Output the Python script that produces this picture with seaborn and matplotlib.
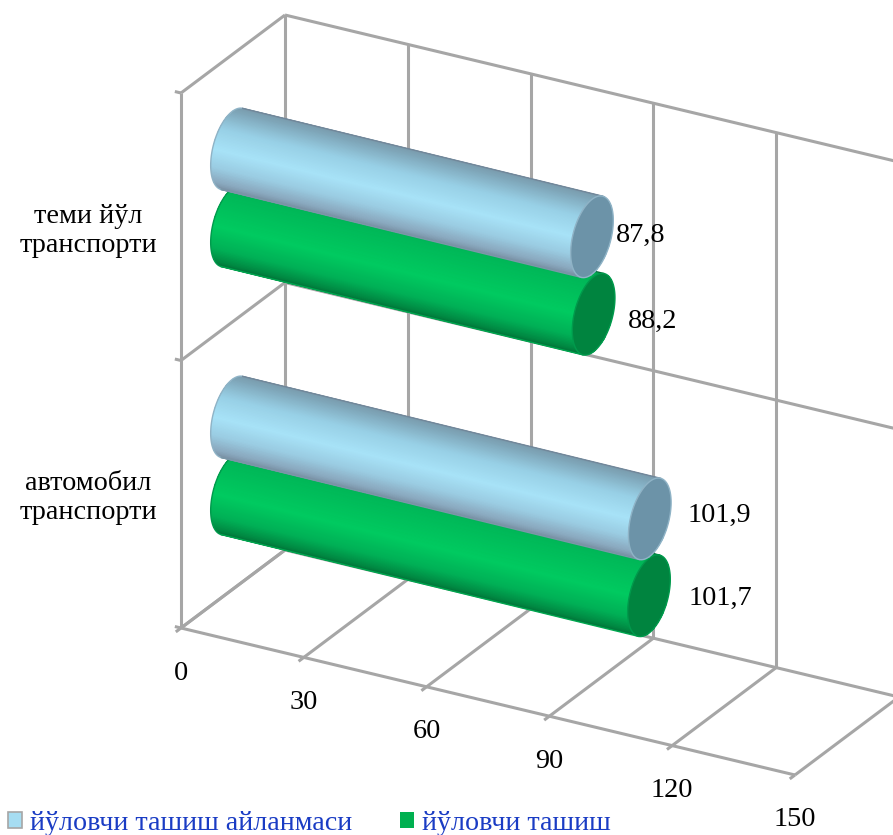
import numpy as np
import pandas as pd
import matplotlib
matplotlib.use("Agg")
import matplotlib.pyplot as plt
from matplotlib.colors import LinearSegmentedColormap
from matplotlib.patches import Polygon, Patch
from matplotlib.transforms import Affine2D
import seaborn as sns

categories = ["теми йўл\nтранспорти", "автомобил\nтранспорти"]
series_names = ["йўловчи ташиш айланмаси", "йўловчи ташиш"]
turnover = [87.8, 101.9]
passengers = [88.2, 101.7]
value_ticks = [0, 30, 60, 90, 120, 150]

# styling / layout
W, H = 893, 835
GRID = "#A6A6A6"
TXT = "#000000"
FONT = "Liberation Serif"
FS = 20.3
LEG_FS = 20.15
LEG_COLOR = "#1A3CC4"
BODY = ["#A6E1F6", "#00C85F"]
CAP = ["#6C93A8", "#00843F"]
RIM = ["#8FB3C6", "#009A4C"]
EDGE = [("#7A98A8", "#72879A"), ("#00A850", "#006E36")]
STOPS = [
    [(0, "#7898A8"), (.08, "#7FA6B9"), (.3, "#98D0E6"), (.55, "#A8E3F8"), (.76, "#9ACCE2"), (.92, "#8AA8BE"), (1, "#74899C")],
    [(0, "#00A850"), (.15, "#00B858"), (.55, "#00CB60"), (.8, "#00B056"), (.93, "#008C44"), (1, "#006E36")],
]
LABEL_OFFS = {0: [(49, -1), (59, 7)], 1: [(70, -3), (71, 3)]}

plt.rcParams["font.family"] = [FONT, "DejaVu Serif"]
fig = plt.figure(figsize=(W / 100, H / 100), dpi=100)
ax = fig.add_axes([0, 0, 1, 1])

df = pd.DataFrame({
    "category": categories * 2,
    "series": [series_names[0]] * 2 + [series_names[1]] * 2,
    "value": turnover + passengers,
})
sns.barplot(data=df, x="value", y="category", hue="series", hue_order=series_names,
            palette=BODY, orient="h", width=0.575, gap=0, legend=False, ax=ax)
bars = list(ax.patches)
ax.set_xlim(0, W)
ax.set_ylim(H, 0)
ax.axis("off")

# mapping of the bar plane into picture pixels
VX, VY = 4.1, 1.0
T = Affine2D(np.array([[VX, 0, 232], [VY, 268, 187.5], [0, 0, 1]], float)) + ax.transData


def box(v, h, d):
    """Position on the 3D frame: value, height fraction, depth fraction."""
    return (181 + 4.093 * v + 104 * d, 628 + 0.98 * v - 535 * h - 78 * d)


def seg(a, b, lw=2.2):
    ax.plot([a[0], b[0]], [a[1], b[1]], color=GRID, lw=lw, solid_capstyle="butt", zorder=1, clip_on=True)


vmax = value_ticks[-1]
for v in value_ticks:
    seg(box(v, 0, 0), box(v, 0, 1))
    seg(box(v, 0, 1), box(v, 1, 1))
    seg(box(v, 0, -0.05), box(v, 0, 0))
for h in (0, .5, 1):
    seg(box(0, h, 0), box(0, h, 1))
    seg(box(0, h, 1), box(vmax, h, 1))
    seg(box(-1.5, h, 0), box(0, h, 0))
seg(box(0, 0, 0), box(0, 1, 0))
seg(box(0, 0, 0), box(vmax, 0, 0))

for v in value_ticks:
    x, y = box(v, 0, 0)
    ax.text(x, y + 45, str(v), ha="center", va="center", fontsize=FS, color=TXT, zorder=6)

for cat, h in zip(categories, (.75, .25)):
    x, y = box(0, h, 0)
    ax.text(x - 93, y + 4, cat, ha="center", va="center", fontsize=FS, color=TXT,
            linespacing=1.23, zorder=6)

# cylinders
A, B, TILT = 42.0, 19.0, np.radians(15)
u = np.array([np.sin(TILT), -np.cos(TILT)])
w = np.array([np.cos(TILT), np.sin(TILT)])
axis_dir = np.array([VX, VY]) / np.hypot(VX, VY)
normal = np.array([-axis_dir[1], axis_dir[0]])
t_top = np.arctan2(B * normal @ w, A * normal @ u)
sign = 1 if np.mean([(A * np.cos(t) * u + B * np.sin(t) * w) @ axis_dir
                     for t in t_top + np.linspace(0, np.pi, 30)]) < 0 else -1
ts = t_top + sign * np.linspace(0, np.pi, 60)
arc_back = np.outer(A * np.cos(ts), u) + np.outer(B * np.sin(ts), w)
arc_front = -arc_back
circle = np.outer(A * np.cos(np.linspace(0, 2 * np.pi, 120)), u) + \
    np.outer(B * np.sin(np.linspace(0, 2 * np.pi, 120)), w)

inv = ax.transData.inverted()
n_cat = len(categories)
for i, bar in enumerate(bars[:2 * n_cat]):
    s = i // n_cat
    c = i % n_cat
    val = bar.get_width()
    yc = bar.get_y() + bar.get_height() / 2
    z = 4 - s
    bar.set_transform(T)
    bar.set_zorder(z)
    bar.set_edgecolor("none")

    c0 = inv.transform(T.transform((0, yc)))
    c1 = inv.transform(T.transform((val, yc)))

    outline = np.vstack([c0 + arc_back, c1 + arc_front])
    clip = Polygon(outline, closed=True, transform=ax.transData, fc="none", ec="none")
    ax.add_patch(clip)
    cmap = LinearSegmentedColormap.from_list(f"cyl{s}", STOPS[s])
    half = 45 / 268
    ys = np.linspace(yc - half, yc + half, 60)
    xs = np.array([-8, val + 8])
    grad = np.column_stack([np.linspace(0, 1, 60)] * 2)
    mesh = ax.pcolormesh(xs, ys, grad, cmap=cmap, vmin=0, vmax=1, transform=T, zorder=z,
                         shading="gouraud")
    mesh.set_clip_path(clip)
    # smooth silhouette
    ax.plot(*(c0 + arc_back).T, color=RIM[s], lw=1.0, zorder=z)
    top = [c0 + arc_back[0], c1 + arc_front[-1]]
    bot = [c0 + arc_back[-1], c1 + arc_front[0]]
    ax.plot(*np.array(top).T, color=EDGE[s][0], lw=1.0, zorder=z)
    ax.plot(*np.array(bot).T, color=EDGE[s][1], lw=1.0, zorder=z)
    ax.add_patch(Polygon(c1 + circle, closed=True, fc=CAP[s], ec=RIM[s], lw=1.0, zorder=z + .1))

    dx, dy = LABEL_OFFS[c][s]
    ax.text(c1[0] + dx, c1[1] + dy, f"{val:.1f}".replace(".", ","), ha="center", va="center",
            fontsize=FS, color=TXT, zorder=6)

handles = [Patch(fc="#A6DDF2", ec="#A6A6A6", lw=1.2), Patch(fc="#00B050", ec="#00B050", lw=0)]
leg = ax.legend(handles, series_names, ncol=2, loc="lower left", bbox_to_anchor=(8, 836),
                bbox_transform=ax.transData, frameon=False, fontsize=LEG_FS, borderpad=0, borderaxespad=0,
                handlelength=0.5, handleheight=0.5, handletextpad=0.3, columnspacing=1.68,
                labelcolor=LEG_COLOR)
leg.set_zorder(7)

fig.savefig("out.png", dpi=100)
